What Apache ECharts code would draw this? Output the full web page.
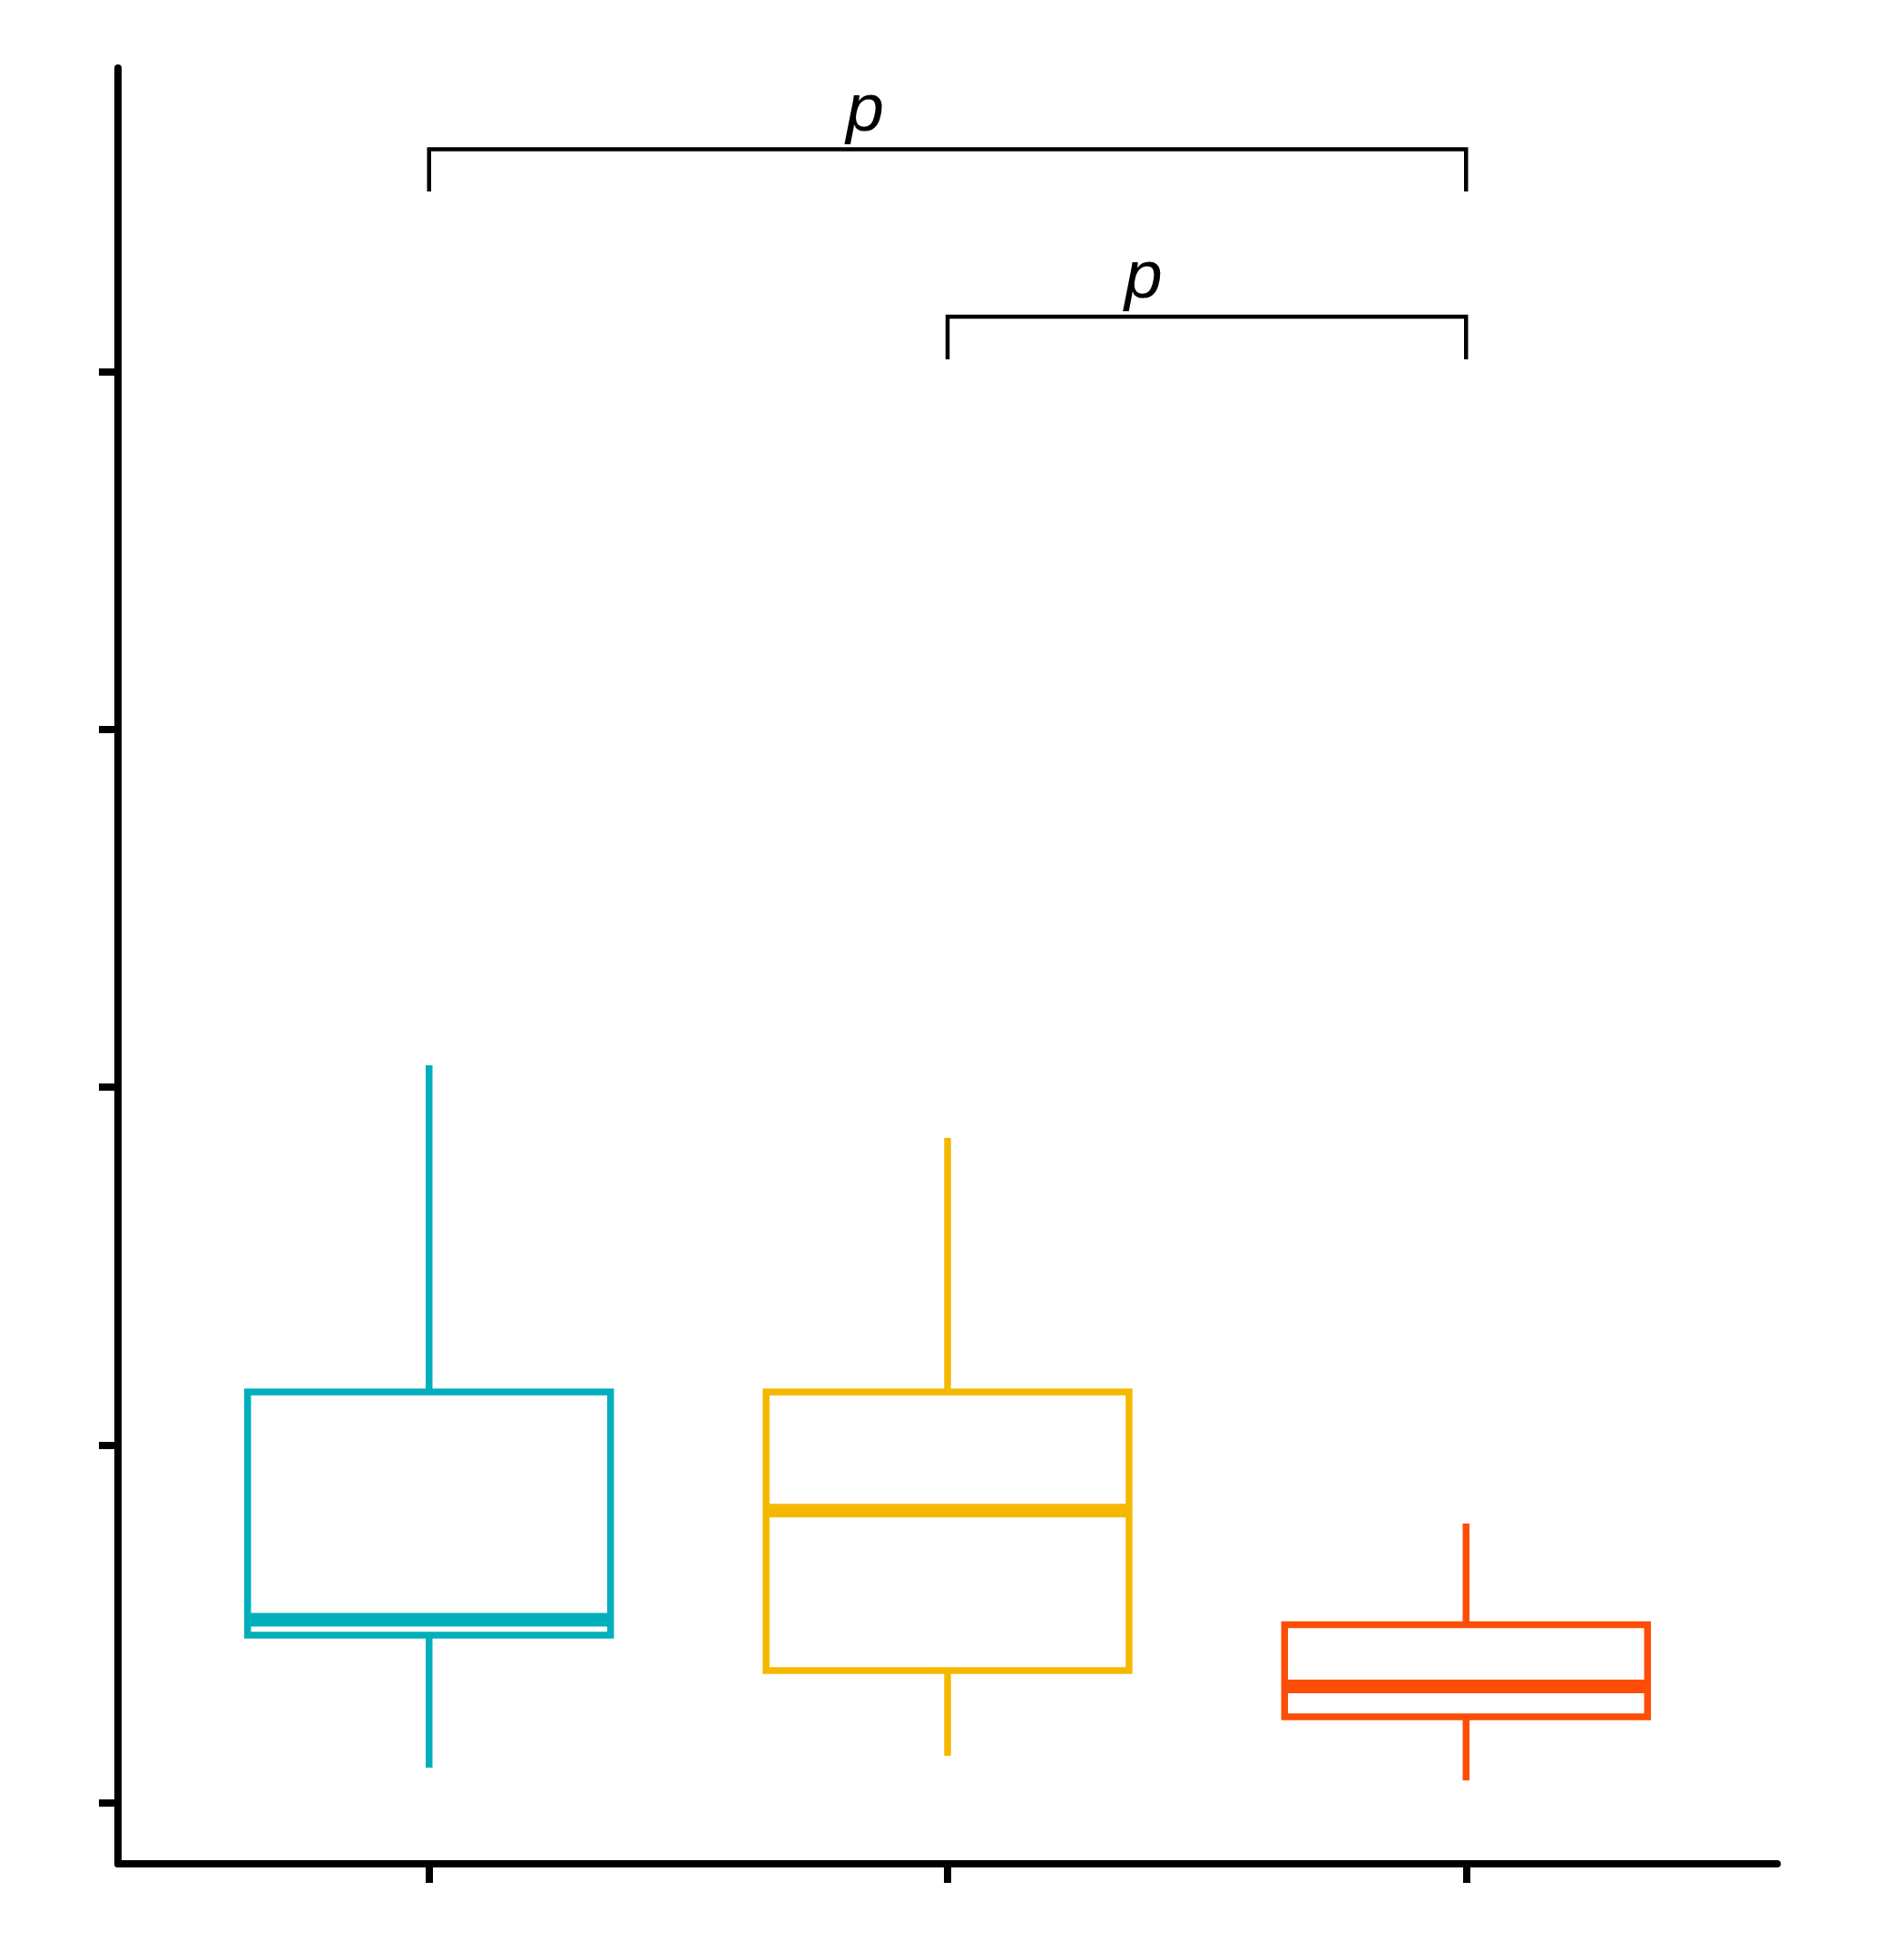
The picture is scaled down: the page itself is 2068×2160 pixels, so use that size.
<!DOCTYPE html>
<html><head><meta charset="utf-8">
<script src="https://cdn.jsdelivr.net/npm/echarts@6/dist/echarts.min.js"></script>
<style>html,body{margin:0;padding:0;background:#fff}#c{width:2068px;height:2160px}</style>
</head><body><div id="c"></div>
<script>
// ---- data ----
const categories = ['Group 1', 'Group 2', 'Group 3'];
const whiskerLow = [0.098, 0.131, 0.062];
const q1 = [0.468, 0.369, 0.240];
const medians = [0.511, 0.816, 0.325];
const q3 = [1.148, 1.148, 0.497];
const whiskerHigh = [2.061, 1.858, 0.780];
const yTickValues = [0, 1, 2, 3, 4];
const xTickValues = [1, 2, 3];
// comparison brackets (x in category positions, y in data units)
const bracketFrom = [1, 2];
const bracketTo = [3, 3];
const bracketTop = [4.621, 4.153];
const bracketFoot = [4.503, 4.034];
const labelX = [1.841, 2.378];
const labelY = [4.726, 4.258];
const labelText = ['p', 'p'];

// ---- styles ----
const colors = ['#00AFBB', '#F5B800', '#FC4E07'];
const BOX_W = 0.7;
const LW = 7.5;
const MED_LW = 15;

const chart = echarts.init(document.getElementById('c'), null, {renderer: 'canvas'});

const boxData = categories.map((c, i) => [i + 1, whiskerLow[i], q1[i], medians[i], q3[i], whiskerHigh[i]]);
const bracketData = bracketFrom.map((f, i) => [f, bracketTo[i], bracketTop[i], bracketFoot[i]]);
const labelData = labelX.map((x, i) => [x, labelY[i], labelText[i]]);

function renderBox(params, api) {
  const x = api.value(0);
  const lo = api.coord([x, api.value(1)]);
  const a = api.coord([x, api.value(2)]);
  const m = api.coord([x, api.value(3)]);
  const b = api.coord([x, api.value(4)]);
  const hi = api.coord([x, api.value(5)]);
  const half = api.size([BOX_W, 0])[0] / 2;
  const color = colors[params.dataIndex];
  return {
    type: 'group',
    children: [
      {type: 'line', shape: {x1: lo[0], y1: lo[1], x2: a[0], y2: a[1]}, style: {stroke: color, lineWidth: LW}},
      {type: 'line', shape: {x1: b[0], y1: b[1], x2: hi[0], y2: hi[1]}, style: {stroke: color, lineWidth: LW}},
      {type: 'rect', shape: {x: a[0] - half, y: b[1], width: 2 * half, height: a[1] - b[1]},
        style: {fill: '#fff', stroke: color, lineWidth: LW}},
      {type: 'line', shape: {x1: a[0] - half, y1: m[1], x2: a[0] + half, y2: m[1]}, style: {stroke: color, lineWidth: MED_LW}}
    ]
  };
}

function renderBracket(params, api) {
  const p1 = api.coord([api.value(0), api.value(3)]);
  const p2 = api.coord([api.value(0), api.value(2)]);
  const p3 = api.coord([api.value(1), api.value(2)]);
  const p4 = api.coord([api.value(1), api.value(3)]);
  return {
    type: 'polyline',
    shape: {points: [p1, p2, p3, p4]},
    style: {stroke: '#000', fill: null, lineWidth: 4.5, lineJoin: 'miter'}
  };
}

function renderLabel(params, api) {
  const p = api.coord([api.value(0), api.value(1)]);
  return {
    type: 'text',
    x: p[0], y: p[1],
    style: {text: labelData[params.dataIndex][2], font: 'italic 75px "Liberation Sans"', fill: '#000', align: 'center', verticalAlign: 'middle'}
  };
}

const axisCommon = {
  axisLabel: {show: false},
  splitLine: {show: false},
  axisLine: {show: true, onZero: false, lineStyle: {color: '#000', width: 8}},
};

chart.setOption({
  animation: false,
  backgroundColor: '#fff',
  grid: {left: 130, right: 110, top: 75, bottom: 106, containLabel: false},
  xAxis: Object.assign({}, axisCommon, {
    type: 'value', min: 0.4, max: 3.6,
    axisTick: {show: true, customValues: xTickValues, length: 21, lineStyle: {color: '#000', width: 8}}
  }),
  yAxis: Object.assign({}, axisCommon, {
    type: 'value', min: -0.171, max: 4.848,
    axisTick: {show: true, customValues: yTickValues, length: 21, lineStyle: {color: '#000', width: 8}}
  }),
  series: [
    {type: 'custom', name: 'box', renderItem: renderBox, data: boxData, encode: {x: 0, y: [1, 2, 3, 4, 5]}, clip: false},
    {type: 'custom', name: 'brackets', renderItem: renderBracket, data: bracketData, encode: {x: [0, 1], y: [2, 3]}, clip: false},
    {type: 'custom', name: 'labels', renderItem: renderLabel, data: labelData.map(d => [d[0], d[1]]), encode: {x: 0, y: 1}, clip: false}
  ]
});
</script>
</body></html>
